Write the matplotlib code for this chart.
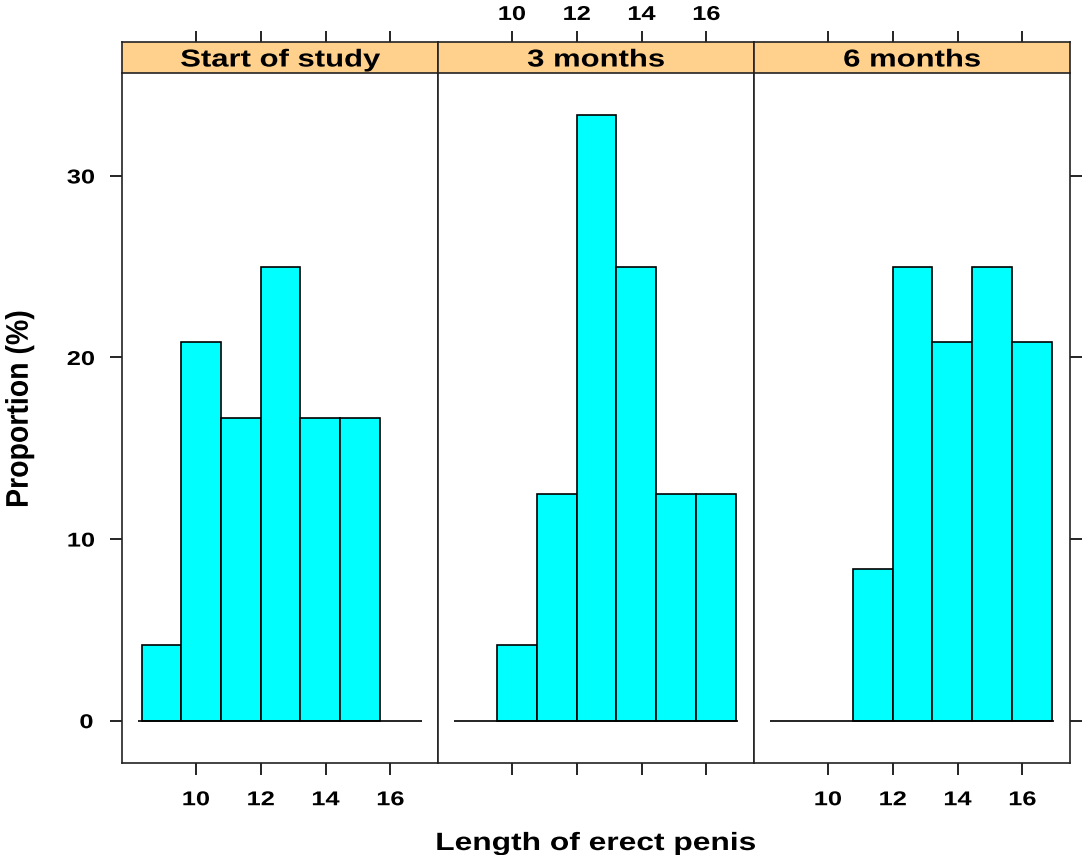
import numpy as np
import matplotlib
matplotlib.use("Agg")
import matplotlib.pyplot as plt
from matplotlib.patheffects import AbstractPathEffect
from matplotlib.transforms import Affine2D
from matplotlib.path import Path

# ---------------- data ----------------
panel_names = ["Start of study", "3 months", "6 months"]
breaks = [8.33, 9.55, 10.78, 12.0, 13.22, 14.45, 15.67, 16.9]
start_pct = [4.17, 20.83, 16.67, 25.0, 16.67, 16.67, 0.0]
month3_pct = [0.0, 4.17, 12.5, 33.33, 25.0, 12.5, 12.5]
month6_pct = [0.0, 0.0, 8.33, 25.0, 20.83, 25.0, 20.83]
baseline_x = [8.2, 16.97]
x_ticks = [10, 12, 14, 16]
y_ticks = [0, 10, 20, 30]
xlabel = "Length of erect penis"
ylabel = "Proportion (%)"

series = [start_pct, month3_pct, month6_pct]

# ---------------- style ----------------
W, H = 1082, 855
FONT = "Liberation Sans"
STRETCH = 1.27
BAR_COLOR = "#00FFFF"
STRIP_COLOR = "#FFD18C"
LW = 1.2


class HStretch(AbstractPathEffect):
    """Widen rendered glyphs horizontally about their centre."""

    def __init__(self, sx):
        super().__init__()
        self.sx = sx

    def draw_path(self, renderer, gc, tpath, affine, rgbFace=None):
        verts = tpath.vertices
        codes = tpath.codes
        if codes is not None:
            verts = verts[codes != Path.CLOSEPOLY]
        if len(verts):
            d = affine.transform(verts)
            cx = 0.5 * (d[:, 0].min() + d[:, 0].max())
        else:
            cx = 0.0
        new = affine + Affine2D().translate(-cx, 0).scale(self.sx, 1).translate(cx, 0)
        renderer.draw_path(gc, tpath, new, rgbFace)


PE = [HStretch(STRETCH)]


def rect(x0, y0, x1, y1):
    return [x0 / W, 1 - y1 / H, (x1 - x0) / W, (y1 - y0) / H]


fig = plt.figure(figsize=(W / 100, H / 100), dpi=100)

panel_x = [(122, 438), (438, 754), (754, 1070)]
ptop, pbot = 73, 763
stop = 42

xlim = (7.72, 17.47)
ylim = (-2.333, 35.667)

for i, (name, vals) in enumerate(zip(panel_names, series)):
    x0, x1 = panel_x[i]
    ax = fig.add_axes(rect(x0, ptop, x1, pbot))
    lefts = np.array(breaks[:-1])
    widths = np.diff(breaks)
    v = np.array(vals)
    m = v > 0
    ax.bar(lefts[m], v[m], width=widths[m], align="edge", color=BAR_COLOR,
           edgecolor="black", linewidth=LW, zorder=2)
    ax.plot(baseline_x, [0, 0], color="black", linewidth=LW, zorder=3,
            solid_capstyle="butt")
    ax.set_xlim(*xlim)
    ax.set_ylim(*ylim)
    for sp in ax.spines.values():
        sp.set_linewidth(LW)
        sp.set_color("#222222")
    ax.spines["top"].set_visible(False)

    ax.set_xticks(x_ticks)
    ax.tick_params(axis="x", which="both", direction="out", length=8.6,
                   width=LW, bottom=True, top=False,
                   labelbottom=(i != 1), labeltop=False, pad=11.0,
                   labelsize=14.4)
    ax.set_yticks(y_ticks)
    if i == 0:
        ax.tick_params(axis="y", direction="out", length=8.6, width=LW,
                       left=True, right=False, labelleft=True,
                       labelright=False, pad=13.0, labelsize=14.4)
    elif i == 2:
        ax.tick_params(axis="y", direction="out", length=8.6, width=LW,
                       left=False, right=True, labelleft=False,
                       labelright=False)
    else:
        ax.tick_params(axis="y", left=False, right=False,
                       labelleft=False, labelright=False)
    for t in ax.xaxis.get_major_ticks() + ax.yaxis.get_major_ticks():
        for lab in (t.label1, t.label2):
            lab.set_fontfamily(FONT)
            lab.set_fontweight("bold")
            lab.set_path_effects(PE)

    # strip
    sax = fig.add_axes(rect(x0, stop, x1, ptop))
    sax.set_facecolor(STRIP_COLOR)
    sax.set_xlim(*xlim)
    sax.set_ylim(0, 1)
    for sp in sax.spines.values():
        sp.set_linewidth(LW)
        sp.set_color("#222222")
    sax.set_xticks(x_ticks)
    sax.set_yticks([])
    sax.tick_params(axis="x", direction="out", length=8.0, width=LW,
                    bottom=False, top=True, labelbottom=False,
                    labeltop=(i == 1), pad=5.0, labelsize=14.4)
    for t in sax.xaxis.get_major_ticks():
        for lab in (t.label1, t.label2):
            lab.set_fontfamily(FONT)
            lab.set_fontweight("bold")
            lab.set_path_effects(PE)
    sax.text(0.5, 0.21, name, transform=sax.transAxes, ha="center",
             va="baseline", fontsize=17.6, fontweight="bold",
             fontfamily=FONT, path_effects=PE)

fig.text(596 / W, 1 - 850 / H, xlabel, ha="center", va="baseline",
         fontsize=18, fontweight="bold", fontfamily=FONT, path_effects=PE)
fig.text(20 / W, 1 - 409 / H, ylabel, ha="center", va="center",
         rotation=90, fontsize=20.5, fontweight="bold", fontfamily=FONT,
         path_effects=[HStretch(1.1)])

fig.savefig("out.png", dpi=100, facecolor="white")
